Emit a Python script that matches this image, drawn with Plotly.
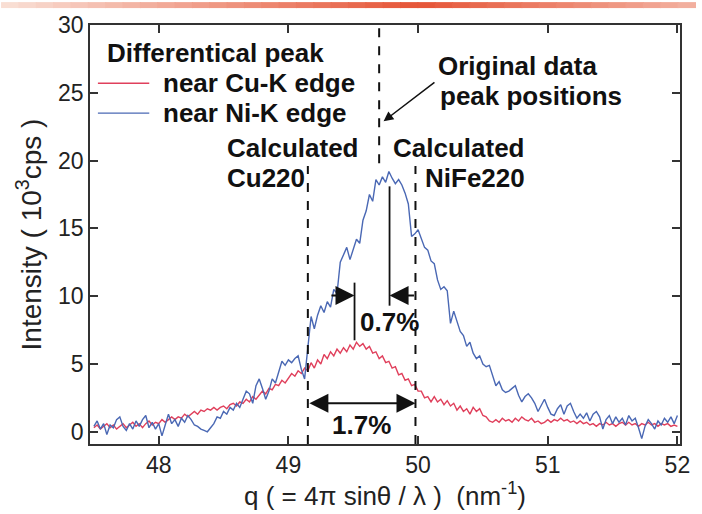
import plotly.graph_objects as go

# ---------------- data ----------------
q = [47.500, 47.525, 47.550, 47.575, 47.600, 47.625, 47.650, 47.675, 47.700, 47.725,
     47.750, 47.775, 47.800, 47.825, 47.850, 47.875, 47.900, 47.925, 47.950, 47.975,
     48.000, 48.025, 48.050, 48.075, 48.100, 48.125, 48.150, 48.175, 48.200, 48.225,
     48.250, 48.275, 48.300, 48.325, 48.350, 48.375, 48.400, 48.425, 48.450, 48.475,
     48.500, 48.525, 48.550, 48.575, 48.600, 48.625, 48.650, 48.675, 48.700, 48.725,
     48.750, 48.775, 48.800, 48.825, 48.850, 48.875, 48.900, 48.925, 48.950, 48.975,
     49.000, 49.025, 49.050, 49.075, 49.100, 49.125, 49.150, 49.175, 49.200, 49.225,
     49.250, 49.275, 49.300, 49.325, 49.350, 49.375, 49.400, 49.425, 49.450, 49.475,
     49.500, 49.525, 49.550, 49.575, 49.600, 49.625, 49.650, 49.675, 49.700, 49.725,
     49.750, 49.775, 49.800, 49.825, 49.850, 49.875, 49.900, 49.925, 49.950, 49.975,
     50.000, 50.025, 50.050, 50.075, 50.100, 50.125, 50.150, 50.175, 50.200, 50.225,
     50.250, 50.275, 50.300, 50.325, 50.350, 50.375, 50.400, 50.425, 50.450, 50.475,
     50.500, 50.525, 50.550, 50.575, 50.600, 50.625, 50.650, 50.675, 50.700, 50.725,
     50.750, 50.775, 50.800, 50.825, 50.850, 50.875, 50.900, 50.925, 50.950, 50.975,
     51.000, 51.025, 51.050, 51.075, 51.100, 51.125, 51.150, 51.175, 51.200, 51.225,
     51.250, 51.275, 51.300, 51.325, 51.350, 51.375, 51.400, 51.425, 51.450, 51.475,
     51.500, 51.525, 51.550, 51.575, 51.600, 51.625, 51.650, 51.675, 51.700, 51.725,
     51.750, 51.775, 51.800, 51.825, 51.850, 51.875, 51.900, 51.925, 51.950, 51.975,
     52.000]

cu_edge = [0.3, 0.5, 0.2, 0.4, 0.6, 0.3, 0.5, 0.2, 0.4, 0.6,
           0.3, 0.5, 0.7, 0.4, 0.6, 0.3, 0.6, 0.8, 0.5, 0.7,
           0.6, 0.9, 0.7, 0.9, 1.1, 0.9, 1.1, 1.0, 1.3, 1.1,
           1.3, 1.5, 1.3, 1.6, 1.5, 1.7, 1.6, 1.8, 1.6, 1.8,
           1.9, 1.7, 2.0, 2.1, 1.9, 2.2, 2.1, 2.4, 2.2, 2.6,
           2.4, 2.7, 3.0, 2.8, 3.2, 3.1, 3.5, 3.4, 3.8, 3.6,
           4.0, 4.3, 4.1, 4.5, 4.3, 4.7, 4.5, 5.1, 4.7, 5.3,
           5.0, 5.7, 5.4, 5.9, 5.6, 6.1, 5.8, 6.2, 5.9, 6.4,
           6.1, 6.6, 6.3, 6.5, 6.1, 6.3, 5.8, 5.9, 5.4, 5.6,
           5.1, 5.2, 4.7, 4.8, 4.2, 4.3, 3.8, 3.9, 3.4, 3.5,
           3.0, 3.0, 2.5, 2.6, 2.2, 2.6, 2.2, 2.4, 2.0, 2.3,
           1.9, 2.1, 1.6, 1.9, 1.5, 1.7, 1.3, 1.8, 1.5, 1.7,
           1.2, 1.1, 0.8, 0.7, 0.9, 0.7, 1.0, 0.8, 0.9, 0.7,
           1.0, 0.8, 1.1, 0.9, 0.8, 1.0, 0.7, 0.8, 0.6, 0.7,
           0.9, 0.7, 0.9, 0.8, 1.0, 0.8, 0.9, 0.7, 0.8, 0.6,
           0.8, 0.6, 0.7, 0.5, 0.6, 0.4, 0.6, 0.5, 0.7, 0.5,
           0.6, 0.4, 0.6, 0.7, 0.5, 0.7, 0.5, 0.6, 0.4, 0.6,
           0.5, 0.7, 0.5, 0.6, 0.4, 0.6, 0.5, 0.6, 0.4, 0.5,
           0.4]

ni_edge = [0.4, 0.8, 0.2, 0.6, -0.2, 0.5, 0.3, 0.9, 1.1, 0.4,
           0.1, 0.6, 0.2, 0.8, 0.4, 0.9, 1.2, 0.3, 0.7, 0.2,
           0.6, -0.3, 0.5, 1.3, 0.6, 0.9, 0.4, 1.0, 0.7, 1.2,
           0.9, 0.5, 0.4, 0.2, 0.1, 0.0, 0.3, 0.6, 1.1, 1.0,
           1.5, 1.3, 1.8, 1.6, 2.1, 1.8, 2.4, 3.0, 2.8, 2.1,
           3.4, 3.9, 3.2, 2.4, 3.0, 3.9, 3.6, 4.4, 5.2, 4.9,
           5.3, 5.1, 5.4, 5.6, 4.6, 3.9, 6.5, 8.5, 7.6, 8.6,
           9.3, 8.8, 9.6, 9.2, 10.5, 10.2, 12.5, 13.0, 13.6, 12.7,
           13.5, 14.2, 13.9, 15.6, 16.3, 17.5, 17.0, 18.6, 18.2, 18.8,
           18.4, 19.2, 18.7, 18.3, 18.6, 18.2, 17.6, 16.8, 14.4, 14.6,
           14.9, 14.2, 13.6, 13.4, 12.6, 12.4, 11.2, 10.5, 10.7, 10.4,
           8.0, 8.9, 8.2, 7.4, 7.1, 6.3, 6.6, 5.8, 5.4, 5.6,
           5.0, 4.8, 4.9, 4.1, 3.4, 3.7, 3.1, 2.9, 3.0, 3.2,
           3.4, 2.7, 2.2, 2.6, 2.8, 2.5, 2.1, 1.5, 2.0, 2.4,
           1.8, 1.3, 1.2, 1.7, 2.0, 1.3, 1.9, 2.1, 1.5, 1.0,
           1.3, 1.0, 1.4, 0.8, 1.3, 1.5, 1.1, 0.2, 0.9, 1.2,
           0.6, 1.1, 0.7, 1.0, 0.5, 1.2, 0.8, 1.0, 0.3, -0.5,
           0.4, 0.9, 0.6, 0.2, 0.8, 0.5, 1.0, 0.7, 1.1, 0.6,
           1.2]

series_names = ["near Cu-K edge", "near Ni-K edge"]
legend_title = "Differentical peak"

calc_cu220 = 49.15      # calculated Cu220 position
calc_nife220 = 49.98    # calculated NiFe220 position
orig_peak = 49.70       # original data peak position
peak_cu = 49.51         # differential peak near Cu-K edge
peak_ni = 49.78         # differential peak near Ni-K edge

x_ticks = [48, 49, 50, 51, 52]
y_ticks = [0, 5, 10, 15, 20, 25, 30]

# ---------------- styling ----------------
RED = "#e0405c"
BLUE = "#4a68b4"
FONT = "Liberation Sans, Arial, Helvetica, sans-serif"
AX = "#333333"
INK = "#111111"

fig = go.Figure()
fig.add_trace(go.Scatter(x=q, y=cu_edge, mode="lines", name=series_names[0],
                         line=dict(color=RED, width=1.4), showlegend=False))
fig.add_trace(go.Scatter(x=q, y=ni_edge, mode="lines", name=series_names[1],
                         line=dict(color=BLUE, width=1.4), showlegend=False))

shapes = []
# dashed reference lines
for xv, y0, y1 in [(calc_cu220, -0.9, 19.6), (calc_nife220, -0.9, 19.6), (orig_peak, 19.8, 30)]:
    shapes.append(dict(type="line", xref="x", yref="y", x0=xv, x1=xv, y0=y0, y1=y1,
                       line=dict(color=INK, width=2, dash="dash")))
# solid peak markers
shapes.append(dict(type="line", xref="x", yref="y", x0=peak_cu, x1=peak_cu, y0=6.75, y1=11.0,
                   line=dict(color=INK, width=1.8)))
shapes.append(dict(type="line", xref="x", yref="y", x0=peak_ni, x1=peak_ni, y0=9.3, y1=18.1,
                   line=dict(color=INK, width=1.8)))
# legend samples
shapes.append(dict(type="line", xref="x", yref="y", x0=47.531, x1=47.927, y0=25.7, y1=25.7,
                   line=dict(color=RED, width=1.4)))
shapes.append(dict(type="line", xref="x", yref="y", x0=47.531, x1=47.927, y0=23.5, y1=23.5,
                   line=dict(color=BLUE, width=1.4)))

# decorative gradient strip at top of the page
n = 40
PW, PH = 597.0, 421.0
for i in range(n):
    t = (i + 0.5) / n
    w = max(0.0, 1 - abs(t - 0.6) / 0.6)
    r = int(250 - 20 * w)
    g = int(225 - 140 * w)
    b = int(215 - 160 * w)
    shapes.append(dict(type="rect", xref="paper", yref="paper",
                       x0=-90 / PW + i * (702 / PW) / n, x1=-90 / PW + (i + 1) * (702 / PW) / n + 0.002,
                       y0=1 + 17 / PH, y1=1 + 23 / PH,
                       fillcolor=f"rgb({r},{g},{b})", line=dict(width=0), layer="above"))

bold = dict(family=FONT, size=26, color=INK)


def label(x, y, text, xanchor="left"):
    return dict(x=x, y=y, xref="x", yref="y", text="<b>" + text + "</b>", showarrow=False,
                xanchor=xanchor, yanchor="middle", font=bold)


ann = [
    label(47.584, 27.9, legend_title),
    label(48.019, 25.7, series_names[0]),
    label(48.019, 23.5, series_names[1]),
    label(50.138, 27.0, "Original data"),
    label(50.153, 24.75, "peak positions"),
    label(48.514, 20.9, "Calculated"),
    label(48.514, 18.7, "Cu220"),
    label(49.795, 20.9, "Calculated"),
    label(50.039, 18.7, "NiFe220"),
    label(49.776, 8.1, "0.7%", "center"),
    label(49.566, 0.5, "1.7%", "center"),
]
# arrows
ann.append(dict(x=49.734, y=22.9, ax=50.138, ay=25.85, xref="x", yref="y", axref="x", ayref="y",
                text="", showarrow=True, arrowhead=2, arrowsize=1.3, arrowwidth=1.5, arrowcolor=INK))
ann.append(dict(x=peak_cu, y=10.05, ax=49.32, ay=10.05, xref="x", yref="y", axref="x", ayref="y",
                text="", showarrow=True, arrowhead=2, arrowsize=1.9, arrowwidth=2, arrowcolor=INK))
ann.append(dict(x=peak_ni, y=10.05, ax=calc_nife220, ay=10.05, xref="x", yref="y", axref="x", ayref="y",
                text="", showarrow=True, arrowhead=2, arrowsize=1.9, arrowwidth=2, arrowcolor=INK))
ann.append(dict(x=calc_nife220, y=2.1, ax=calc_cu220, ay=2.1, xref="x", yref="y", axref="x", ayref="y",
                text="", showarrow=True, arrowhead=2, startarrowhead=2, arrowside="end+start",
                arrowsize=1.9, startarrowsize=1.9, arrowwidth=2, arrowcolor=INK))

fig.update_layout(
    width=702, height=514,
    margin=dict(l=90, r=15, t=23, b=70),
    paper_bgcolor="white", plot_bgcolor="white",
    font=dict(family=FONT, size=22, color="#222222"),
    shapes=shapes, annotations=ann, showlegend=False,
)
fig.update_xaxes(range=[47.47, 52.02], tickvals=x_ticks, ticks="inside", ticklen=8, tickwidth=1.5,
                 tickcolor=AX, showline=True, linecolor=AX, linewidth=1.5, mirror="ticks",
                 showgrid=False, zeroline=False, tickfont=dict(size=23),
                 title=dict(text="q ( = 4π sinθ / λ )  (nm<sup>-1</sup>)", font=dict(size=26), standoff=2))
fig.update_yaxes(range=[-0.9, 30], tickvals=y_ticks, ticks="inside", ticklen=8, tickwidth=1.5,
                 tickcolor=AX, showline=True, linecolor=AX, linewidth=1.5, mirror="ticks",
                 showgrid=False, zeroline=False, tickfont=dict(size=23),
                 title=dict(text="Intensity ( 10<sup>3</sup>cps )", font=dict(size=28), standoff=8))

fig.write_html("out.html")
